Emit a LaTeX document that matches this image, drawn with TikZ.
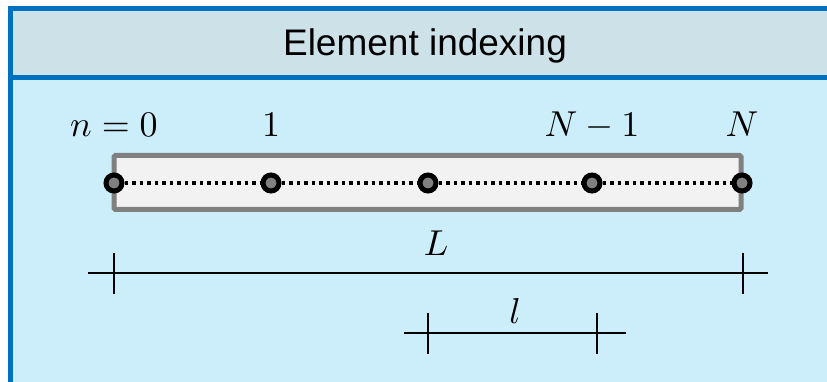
\documentclass[tikz,border=0pt]{standalone}
\usepackage{fontspec}
\setsansfont{Liberation Sans}
\usetikzlibrary{positioning}
\definecolor{frameblue}{RGB}{0,112,192}
\definecolor{headfill}{RGB}{205,225,232}
\definecolor{bodyfill}{RGB}{204,238,250}
\definecolor{barfill}{RGB}{242,242,242}
\definecolor{bargray}{RGB}{128,128,128}
\newcommand{\bigmath}[1]{\scalebox{3.6}{$#1$}}
\begin{document}
\begin{tikzpicture}[x=1pt, y=-1pt,
    elem/.style={circle, draw=black, fill=bargray, line width=5pt, minimum size=16pt, inner sep=0pt},
    idx/.style={anchor=base, inner sep=0pt},
    dim/.style={line width=1.6pt}]
  \useasboundingbox (0,0) rectangle (827,382);
  \clip (0,0) rectangle (827,382);
  \fill[white] (0,0) rectangle (827,382);
  % frame and header
  \fill[bodyfill] (10.5,8.5) rectangle (850,400);
  \fill[headfill] (10.5,8.5) rectangle (850,78);
  \draw[frameblue, line width=5pt] (850,8.5) -- (10.5,8.5) -- (10.5,400);
  \draw[frameblue, line width=5pt] (10.5,78) -- (850,78);
  \node[anchor=base, inner sep=0pt, font=\sffamily\fontsize{37}{42}\selectfont] (title) at (425,56) {Element indexing};
  % bar with elements
  \node[draw=bargray, fill=barfill, line width=5pt, rounded corners=1.5pt,
        minimum width=627pt, minimum height=54pt, inner sep=0pt] (bar) at (427.5,182.5) {};
  \foreach \name/\x in {e0/114, e1/271, e2/428, e3/592, eN/742}
    \node[elem] (\name) at (\x,183) {};
  \draw[line width=3.5pt, dash pattern=on 3.5pt off 4pt] (e0) -- (e1) -- (e2) -- (e3) -- (eN);
  % index labels
  \coordinate (top) at (0,137);
  \node[idx] (t0) at (e0 |- top) {\bigmath{n=0}};
  \node[idx] (t1) at (e1 |- top) {\bigmath{1}};
  \node[idx] (t3) at (e3 |- top) {\bigmath{N-1}};
  \node[idx] (tN) at (eN |- top) {\bigmath{N}};
  % total length
  \coordinate (La) at (88,273);
  \coordinate (Lb) at (768,273);
  \draw[dim] (La) -- (Lb);
  \draw[dim] (114,253) -- (114,294);
  \draw[dim] (743,253) -- (743,294);
  \node[idx] (Ltxt) at (436,255) {\bigmath{L}};
  % element length
  \coordinate (la) at (404,333);
  \coordinate (lb) at (626,333);
  \draw[dim] (la) -- (lb);
  \draw[dim] (428,313) -- (428,354);
  \draw[dim] (597,313) -- (597,354);
  \node[idx] (ltxt) at (515,323) {\bigmath{l}};
\end{tikzpicture}
\end{document}
